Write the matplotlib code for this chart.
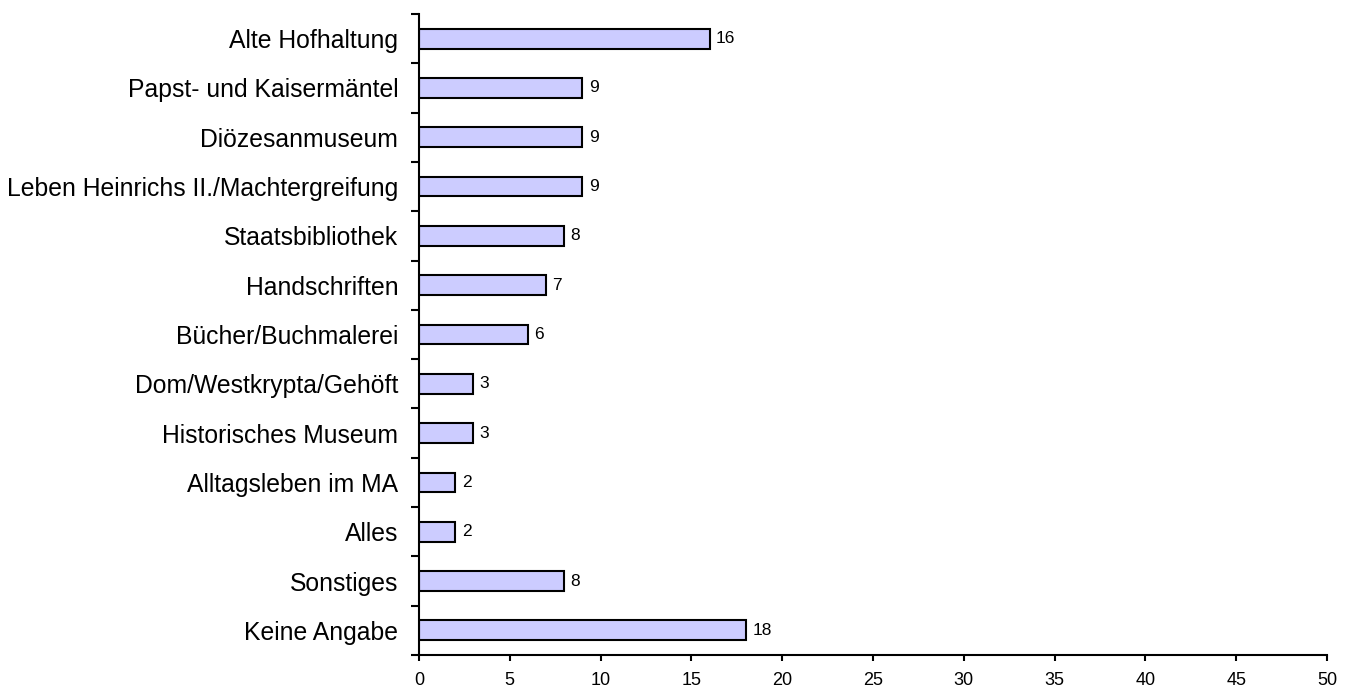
import matplotlib.pyplot as plt
import numpy as np

plt.rcParams['font.family'] = ['Liberation Sans', 'DejaVu Sans']

# Daten
kategorien = ["Alte Hofhaltung", "Papst- und Kaisermäntel", "Diözesanmuseum",
              "Leben Heinrichs II./Machtergreifung", "Staatsbibliothek", "Handschriften",
              "Bücher/Buchmalerei", "Dom/Westkrypta/Gehöft", "Historisches Museum",
              "Alltagsleben im MA", "Alles", "Sonstiges", "Keine Angabe"]
werte = [16, 9, 9, 9, 8, 7, 6, 3, 3, 2, 2, 8, 18]
x_ticks = [0, 5, 10, 15, 20, 25, 30, 35, 40, 45, 50]

fig = plt.figure(figsize=(13.49, 6.91), dpi=100)
ax = fig.add_axes([0.3106, 0.0521, 0.6731, 0.9276])

pos = np.arange(len(kategorien))
ax.barh(pos, werte, height=0.4, color="#CCCCFF", edgecolor="black", linewidth=1.5)

for p, w in zip(pos, werte):
    ax.text(w + 0.35, p, str(w), va="center", ha="left", fontsize=12.5)

ax.set_xlim(0, 50)
ax.set_ylim(len(kategorien) - 0.5, -0.5)

ax.set_xticks(x_ticks)
ax.set_xticklabels([str(t) for t in x_ticks], fontsize=13)
ax.tick_params(axis="x", direction="out", length=4.5, width=1.5, pad=8)

ax.set_yticks(pos)
ax.set_yticklabels(kategorien, fontsize=17.8)
ax.tick_params(axis="y", which="major", length=0, pad=15)
ax.set_yticks(np.arange(-0.5, len(kategorien), 1), minor=True)
ax.tick_params(axis="y", which="minor", direction="out", length=6, width=1.5)

for s in ["top", "right"]:
    ax.spines[s].set_visible(False)
for s in ["left", "bottom"]:
    ax.spines[s].set_linewidth(1.5)

fig.savefig("out.png", dpi=100)
